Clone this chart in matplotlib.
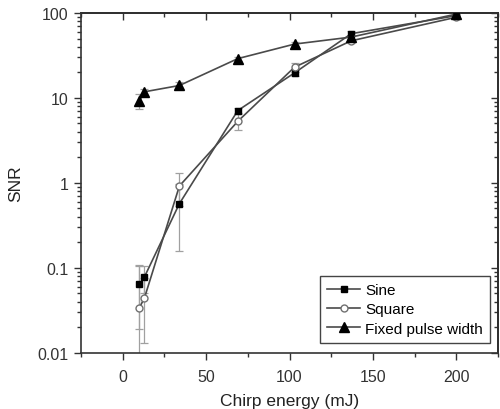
import matplotlib
matplotlib.use('Agg')
import matplotlib.pyplot as plt
from matplotlib.ticker import LogLocator, NullFormatter, FixedLocator

plt.rcParams['font.family'] = ['Liberation Sans', 'DejaVu Sans']

# chirp energy (mJ)
energy = [10, 13, 34, 69, 103, 137, 200]

sine = [0.064, 0.078, 0.57, 7.1, 19.7, 57, 93]
sine_err = [0.045, 0.027, 0.41, 0.5, 1.5, 4, 4]

square = [0.034, 0.044, 0.92, 5.3, 23, 47, 89]
square_err = [0.07, 0.031, 0.38, 1.1, 3, 3, 3]

fixed = [9.2, 11.8, 14, 29, 43, 52, 97]
fixed_err = [1.8, 1.0, 1.2, 1.5, 2, 3, 3]

xticks = [0, 50, 100, 150, 200]
xminor = [-25, 25, 75, 125, 175, 225]
yticks = [0.01, 0.1, 1, 10, 100]
ylabels = ['0.01', '0.1', '1', '10', '100']

fig = plt.figure(figsize=(5, 4.1), dpi=100)
ax = fig.add_axes([0.162, 0.137, 0.834, 0.829])

line_col = '#4a4a4a'
err_col = '#a0a0a0'

for y, e in [(square, square_err), (sine, sine_err), (fixed, fixed_err)]:
    ax.errorbar(energy, y, yerr=e, fmt='none', ecolor=err_col,
                elinewidth=0.9, capsize=3, capthick=0.9, zorder=1)

ax.plot(energy, sine, '-s', color=line_col, lw=1.2, mfc='black', mec='black',
        ms=4.8, label='Sine', zorder=3)
ax.plot(energy, square, '-o', color=line_col, lw=1.2, mfc='white', mec='#707070',
        ms=5, mew=1.0, label='Square', zorder=3)
ax.plot(energy, fixed, '-^', color=line_col, lw=1.2, mfc='black', mec='black',
        ms=6.5, label='Fixed pulse width', zorder=3)

ax.set_yscale('log')
ax.set_xlim(-25, 225)
ax.set_ylim(0.01, 100)
ax.xaxis.set_major_locator(FixedLocator(xticks))
ax.xaxis.set_minor_locator(FixedLocator(xminor))
ax.set_yticks(yticks)
ax.set_yticklabels(ylabels)
ax.yaxis.set_minor_locator(LogLocator(base=10, subs=range(2, 10), numticks=10))
ax.yaxis.set_minor_formatter(NullFormatter())

for sp in ax.spines.values():
    sp.set_linewidth(1.2)
    sp.set_color('#333333')

ax.tick_params(which='both', direction='out', top=False, right=False,
               labelsize=11.5, colors='#333333', width=1.0)
ax.tick_params(which='major', length=5)
ax.tick_params(which='minor', length=3)
ax.tick_params(axis='x', which='major', pad=7)
ax.tick_params(axis='y', which='major', pad=4)

# inward ticks on the top and right edges
sec_x = ax.secondary_xaxis('top')
sec_x.xaxis.set_major_locator(FixedLocator(xticks))
sec_x.xaxis.set_minor_locator(FixedLocator(xminor))
sec_x.tick_params(which='both', direction='in', labeltop=False, width=1.0,
                  colors='#333333')
sec_x.tick_params(which='major', length=5)
sec_x.tick_params(which='minor', length=3)
sec_x.spines['top'].set_linewidth(1.2)
sec_y = ax.secondary_yaxis('right')
sec_y.set_yticks(yticks)
sec_y.yaxis.set_minor_locator(LogLocator(base=10, subs=range(2, 10), numticks=10))
sec_y.tick_params(which='both', direction='in', labelright=False, width=1.0,
                  colors='#333333')
sec_y.tick_params(which='major', length=5)
sec_y.tick_params(which='minor', length=3)
sec_y.spines['right'].set_linewidth(1.2)

ax.set_xlabel('Chirp energy (mJ)', fontsize=12.5, color='#222222', labelpad=6)
ax.set_ylabel('SNR', fontsize=12.5, color='#222222', labelpad=10)

leg = ax.legend(loc='lower right', bbox_to_anchor=(0.98, 0.03), fontsize=11,
                handlelength=2.2, handletextpad=0.3, borderpad=0.45,
                labelspacing=0.35, borderaxespad=0, fancybox=False,
                framealpha=1, edgecolor='#444444')
leg.get_frame().set_linewidth(1.0)

fig.savefig('out.png', dpi=100)
